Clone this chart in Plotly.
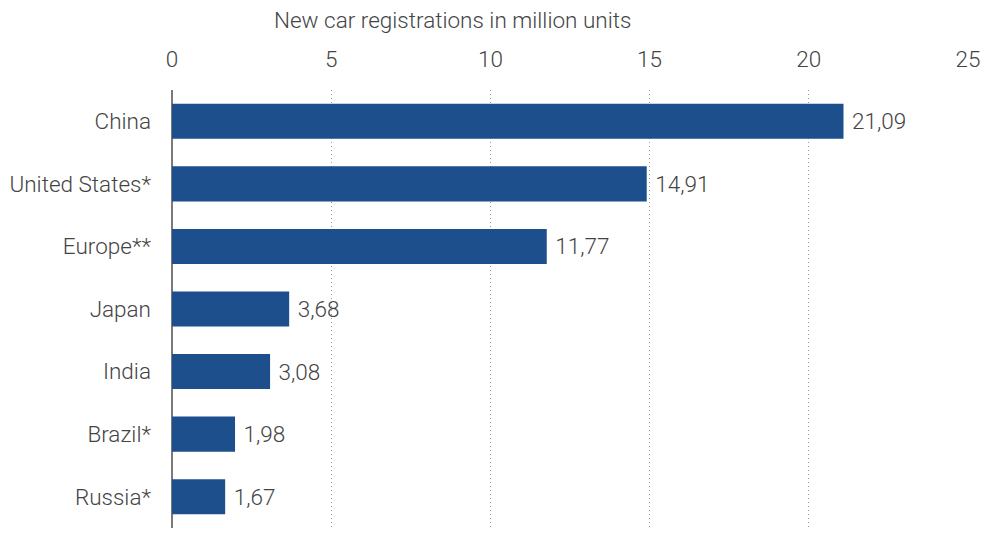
import plotly.graph_objects as go

countries = ["China", "United States*", "Europe**", "Japan", "India", "Brazil*", "Russia*"]
registrations = [21.09, 14.91, 11.77, 3.68, 3.08, 1.98, 1.67]
x_ticks = [0, 5, 10, 15, 20, 25]
axis_title = "New car registrations in million units"

labels = ["\u00a0" + f"{v:.2f}".replace(".", ",") for v in registrations]

font_family = "Roboto"
text_color = "#444444"
fsize = 22.5

fig = go.Figure(
    go.Bar(
        x=registrations,
        y=countries,
        orientation="h",
        marker=dict(color="#1c4f8c", line=dict(width=0)),
        width=0.56,
        text=labels,
        textposition="outside",
        textfont=dict(family=font_family, size=fsize, color=text_color, weight=300),
        cliponaxis=False,
    )
)

# page body has a default 8px margin, so margins are compensated
fig.update_layout(
    width=1000,
    height=548,
    margin=dict(l=164, r=40, t=82, b=28),
    plot_bgcolor="white",
    paper_bgcolor="white",
    font=dict(family=font_family, size=fsize, color=text_color, weight=300),
    showlegend=False,
    annotations=[
        dict(
            text=axis_title,
            xref="paper", yref="paper",
            x=0.353, y=1.0,
            yshift=70,
            xanchor="center", yanchor="middle",
            showarrow=False,
            font=dict(family=font_family, size=fsize, color=text_color, weight=300),
        )
    ],
)

fig.update_xaxes(
    side="top",
    range=[0, 25],
    tickvals=x_ticks,
    ticktext=[str(t) for t in x_ticks],
    showgrid=True,
    gridcolor="#9a9a9a",
    griddash="1px,3px",
    gridwidth=1,
    zeroline=True,
    zerolinecolor="#7a7a7a",
    zerolinewidth=1.5,
    ticks="",
    ticklabelstandoff=18,
    automargin=False,
    tickfont=dict(family=font_family, size=fsize, color=text_color, weight=300),
    fixedrange=True,
)

fig.update_yaxes(
    categoryorder="array",
    categoryarray=countries[::-1],
    range=[-0.5, 6.5],
    showgrid=False,
    zeroline=False,
    ticks="",
    ticklabelstandoff=20,
    automargin=False,
    tickfont=dict(family=font_family, size=fsize, color=text_color, weight=300),
    fixedrange=True,
)

fig.write_html("out.html")
